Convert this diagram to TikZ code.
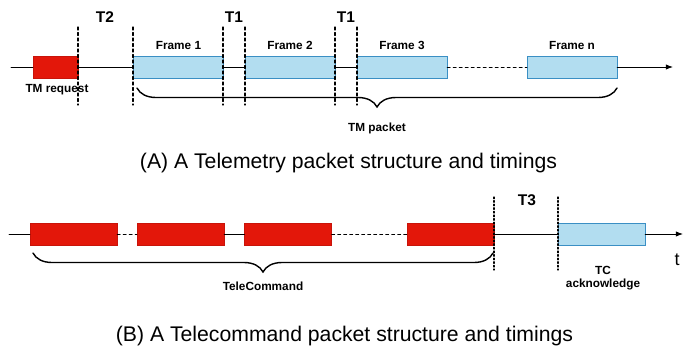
\documentclass[tikz,border=0pt]{standalone}
\usepackage{fontspec}
\setmainfont{Liberation Sans}
\usetikzlibrary{arrows.meta,positioning,decorations.pathreplacing}
\definecolor{cmdred}{HTML}{E3170A}
\definecolor{cmdedge}{HTML}{C8140A}
\definecolor{frameblue}{HTML}{B2DDF0}
\definecolor{frameedge}{HTML}{3A8FC4}

\begin{document}
\begin{tikzpicture}[x=1pt,y=-1pt,>=Latex,line cap=round,
    redbox/.style={draw=cmdedge,fill=cmdred,minimum width=87pt,minimum height=22pt,inner sep=0pt},
    bluebox/.style={draw=frameedge,fill=frameblue,minimum width=90pt,minimum height=22pt,inner sep=0pt},
    lbl/.style={font=\bfseries\fontsize{11.8}{13.5}\selectfont},
    tlbl/.style={font=\bfseries\fontsize{15.5}{18}\selectfont},
    capt/.style={font=\fontsize{21.2}{25}\selectfont},
    guide/.style={dash pattern=on 3pt off 2.5pt,line width=1.1pt},
    dotguide/.style={dash pattern=on 1.6pt off 2pt,line width=1.3pt},
    brc/.style={decorate,decoration={brace,amplitude=19pt,mirror},line width=1.4pt}]
  \useasboundingbox (0,0) rectangle (684,354);
  % (A) telemetry
  \begin{scope}
    \coordinate (s1) at (11,67);
    \coordinate (e1) at (673,67);
    \node[redbox,minimum width=45pt] (req) at (55.5,67) {};
    \foreach \n/\x in {1/178.5, 2/290, 3/402, n/572}{
      \node[bluebox] (f\n) at (\x,67) {};
      \node[lbl] (lf\n) at (\x,45) {Frame \n};
    }
    \draw[line width=0.9pt] (s1) -- (req);
    \draw[line width=0.9pt] (req) -- (f1);
    \draw[line width=0.9pt] (f1) -- (f2);
    \draw[line width=0.9pt] (f2) -- (f3);
    \draw[line width=0.9pt,dashed] (f3) -- (fn);
    \draw[line width=0.9pt,->] (fn) -- (e1);
    \foreach \x in {78,133,223,245,335,357}
      \draw[guide] (\x,27) -- (\x,105);
    \node[tlbl] (t2) at (105,17) {T2};
    \node[tlbl] (t1a) at (234,17) {T1};
    \node[tlbl] (t1b) at (346,17) {T1};
    \node[lbl] (lreq) at (57,90) {TM request};
    \draw[brc] (137,88) -- (617,88);
    \node[lbl] (lpkt) at (377,128) {TM packet};
    \node[capt] (capa) at (348.5,163) {(A) A Telemetry packet structure and timings};
  \end{scope}
  % (B) telecommand
  \begin{scope}
    \coordinate (s2) at (9,234);
    \coordinate (e2) at (683,234);
    \foreach \n/\x in {1/73.5, 2/180.5, 3/288, 4/451}
      \node[redbox] (c\n) at (\x,234) {};
    \node[bluebox,minimum width=87pt] (ack) at (601.5,234) {};
    \draw[line width=0.9pt] (s2) -- (c1);
    \draw[line width=0.9pt,dashed] (c1) -- (c2);
    \draw[line width=0.9pt] (c2) -- (c3);
    \draw[line width=0.9pt,dashed] (c3) -- (c4);
    \draw[line width=0.9pt] (c4) -- (ack);
    \draw[line width=0.9pt,->] (ack) -- (e2);
    \foreach \x in {494,558}
      \draw[dotguide] (\x,197) -- (\x,270);
    \node[tlbl] (t3) at (527,200) {T3};
    \node[lbl,align=center] (lack) at (603,278) {TC\\acknowledge};
    \node[font=\fontsize{18}{20}\selectfont] (lt) at (677,260) {t};
    \draw[brc] (33,253) -- (493,253);
    \node[lbl] (lcmd) at (263,286) {TeleCommand};
    \node[capt] (capb) at (344.5,336) {(B) A Telecommand packet structure and timings};
  \end{scope}
\end{tikzpicture}
\end{document}
